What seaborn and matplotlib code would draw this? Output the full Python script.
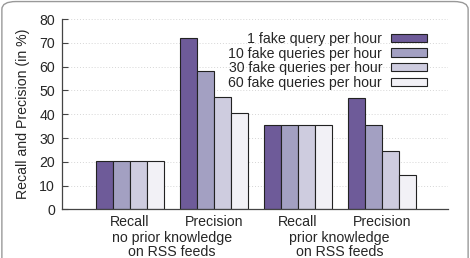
import matplotlib
matplotlib.use("Agg")
import matplotlib.pyplot as plt
import seaborn as sns
import pandas as pd
from matplotlib.patches import FancyBboxPatch

# data
metrics = ["Recall", "Precision", "Recall ", "Precision "]
groups = ["no prior knowledge\non RSS feeds", "prior knowledge\non RSS feeds"]
series = ["1 fake query per hour", "10 fake queries per hour",
          "30 fake queries per hour", "60 fake queries per hour"]
q1 = [20.3, 72.0, 35.4, 47.0]
q10 = [20.3, 58.0, 35.4, 35.4]
q30 = [20.3, 47.4, 35.4, 24.4]
q60 = [20.3, 40.5, 35.4, 14.5]

colors = ["#6a51a3", "#9e9ac8", "#cbc9e2", "#f2f0f7"]

rows = []
for s, vals in zip(series, [q1, q10, q30, q60]):
    for m, v in zip(metrics, vals):
        rows.append({"metric": m, "series": s, "value": v})
df = pd.DataFrame(rows)

sns.set_style("white")
plt.rcParams['font.family'] = ['Liberation Sans', 'DejaVu Sans']
fs = 10.2

fig = plt.figure(figsize=(4.7, 2.58), dpi=100)
ax = fig.add_axes([0.132, 0.188, 0.821, 0.738])

sns.barplot(data=df, x="metric", y="value", hue="series", palette=colors,
            order=metrics, hue_order=series, width=0.81,
            edgecolor="#222222", linewidth=0.8, ax=ax)

ax.set_xlim(-0.81, 3.79)
ax.set_ylim(0, 80)
ax.set_yticks(range(0, 81, 10))
ax.yaxis.grid(True, linestyle=(0, (1, 2)), color="#d6d6d6", linewidth=0.7)
ax.set_axisbelow(True)
for side in ["top", "right"]:
    ax.spines[side].set_visible(False)
for side in ["left", "bottom"]:
    ax.spines[side].set_color("#444444")
    ax.spines[side].set_linewidth(0.9)
ax.tick_params(axis="y", direction="in", length=4, color="#444444",
               labelsize=fs, pad=5, left=True)
ax.tick_params(axis="x", length=0, labelsize=fs, pad=4)
ax.set_xticks(range(4))
ax.set_xticklabels(["Recall", "Precision", "Recall", "Precision"])
ax.set_xlabel("")
ax.set_ylabel("Recall and Precision (in %)", fontsize=fs, labelpad=7)

# group labels below the tick labels
for i, g in enumerate(groups):
    ax.text(0.5 + 2 * i, -0.114, g, transform=ax.get_xaxis_transform(),
            ha="center", va="top", fontsize=fs, linespacing=0.98)

leg = ax.legend(loc="upper right", bbox_to_anchor=(0.98, 1.0), frameon=False,
                markerfirst=False, fontsize=fs, handlelength=2.6,
                handleheight=0.5, labelspacing=0.05, handletextpad=0.6)

# rounded frame round the figure, its bottom edge runs off the picture
frame = FancyBboxPatch((0.004, -0.05), 0.992, 1.044,
                       boxstyle="round,pad=0,rounding_size=0.03",
                       transform=fig.transFigure, fill=False,
                       edgecolor="#999999", linewidth=1.0)
fig.patches.append(frame)

fig.savefig("out.png", dpi=100)
